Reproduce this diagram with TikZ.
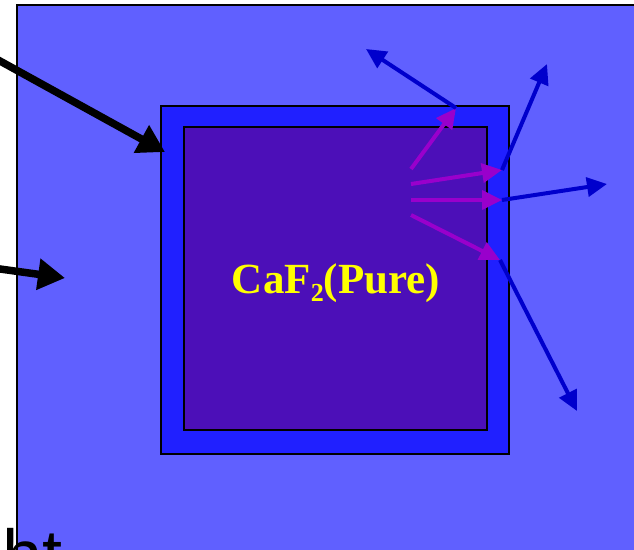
\documentclass[tikz,border=0pt]{standalone}
\usepackage{fontspec}
\setmainfont{Liberation Serif}
\newfontfamily\arialfont{Liberation Sans}
\usetikzlibrary{arrows.meta}
\definecolor{outerbg}{HTML}{6060FF}
\definecolor{midbg}{HTML}{2020FF}
\definecolor{innerbg}{HTML}{4C0FB8}
\definecolor{raymag}{HTML}{9900CC}
\definecolor{rayblue}{HTML}{0000CC}
\definecolor{labelyellow}{HTML}{FFFF00}
\begin{document}
\begin{tikzpicture}[x=1pt,y=-1pt,
  box/.style={draw=black,line width=2pt},
  bigarrow/.style={draw=black,line width=7.5pt,-{Triangle[length=27pt,width=30pt]}},
  magray/.style={draw=raymag,line width=4pt,-{Triangle[length=20pt,width=19pt]}},
  blueray/.style={draw=rayblue,line width=4pt,-{Triangle[length=20pt,width=19pt]}}]
\useasboundingbox (0,0) rectangle (634,549);
\clip (0,0) rectangle (634,549);
\fill[white] (0,0) rectangle (634,549);
% boxes
\filldraw[box,fill=outerbg] (17,5) rectangle (680,600);
\filldraw[box,fill=midbg] (161,106) rectangle (509,454);
\filldraw[box,fill=innerbg] (184,127) rectangle (487,430);
% label
\node[anchor=base,inner sep=0pt,text=labelyellow,font=\bfseries\fontsize{43}{43}\selectfont] (label) at (336,293)
  {CaF\raisebox{-8pt}{\fontsize{26}{26}\selectfont 2}(Pure)};
% partial word at bottom left
\node[anchor=base west,inner sep=0pt,font=\arialfont\fontsize{72}{72}\selectfont] (word) at (2,580) {ht};
% coordinates
\coordinate (s1) at (-10,55.5);
\coordinate (t1) at (165,152);
\coordinate (s2) at (-10,267.6);
\coordinate (t2) at (65,278);
\coordinate (mt1) at (411,169);
\coordinate (mt2) at (411,184);
\coordinate (mt3) at (411,200);
\coordinate (mt4) at (411,215);
\coordinate (mh1) at (456,108);
\coordinate (mh2) at (502,170);
\coordinate (mh3) at (502,200);
\coordinate (mh4) at (500,260);
\coordinate (bh1) at (366,49);
\coordinate (bh2) at (547,64);
\coordinate (bh3) at (607,184);
\coordinate (bh4) at (577,411);
% black arrows
\draw[bigarrow] (s1) -- (t1);
\draw[bigarrow] (s2) -- (t2);
% magenta rays
\draw[magray] (mt1) -- (mh1);
\draw[magray] (mt2) -- (mh2);
\draw[magray] (mt3) -- (mh3);
\draw[magray] (mt4) -- (mh4);
% blue rays
\draw[blueray] (mh1) -- (bh1);
\draw[blueray] (mh2) -- (bh2);
\draw[blueray] (mh3) -- (bh3);
\draw[blueray] (mh4) -- (bh4);
\end{tikzpicture}
\end{document}
